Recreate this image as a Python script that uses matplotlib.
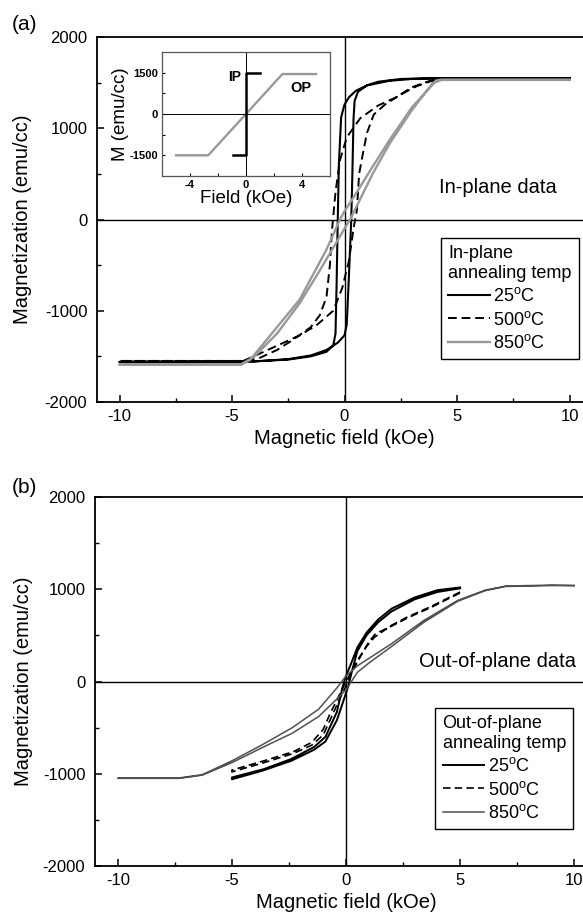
import numpy as np
import matplotlib
matplotlib.use("Agg")
import matplotlib.pyplot as plt

plt.rcParams["font.family"] = ["Liberation Sans", "DejaVu Sans"]
plt.rcParams["mathtext.fontset"] = "custom"
plt.rcParams["mathtext.rm"] = "Liberation Sans"
plt.rcParams["axes.unicode_minus"] = False

# ---------------- (a) in-plane loops ----------------
ip25_down_h = [10, 5, 3, 2, 1, 0.5, 0.2, 0, -0.15, -0.25, -0.3, -0.35, -0.4, -0.5, -0.8, -1.5, -2.5, -4, -10]
ip25_down_m = [1550, 1550, 1540, 1520, 1470, 1410, 1340, 1260, 1120, 600, 0, -700, -1250, -1380, -1450, -1500, -1535, -1555, -1560]
ip25_up_h = [-10, -4, -2.5, -1.5, -0.8, -0.3, 0, 0.1, 0.2, 0.3, 0.35, 0.4, 0.45, 0.6, 1, 1.5, 2.5, 4, 10]
ip25_up_m = [-1560, -1555, -1530, -1490, -1430, -1350, -1270, -1150, -600, 0, 500, 1100, 1300, 1400, 1470, 1510, 1540, 1550, 1550]

ip500_down_h = [10, 4.5, 3.8, 3.0, 2.3, 1.5, 0.7, 0.1, -0.2, -0.4, -0.55, -0.65, -0.8, -1.1, -1.5, -2.3, -3.0, -3.8, -4.5, -10]
ip500_down_m = [1540, 1540, 1520, 1450, 1340, 1250, 1110, 900, 650, 300, -100, -500, -850, -1050, -1180, -1320, -1430, -1520, -1550, -1550]
ip500_up_h = [-10, -4.5, -3.5, -2.0, -1.25, -0.5, -0.1, 0.2, 0.4, 0.55, 0.65, 0.8, 1.0, 1.3, 1.8, 2.5, 3.2, 4.0, 4.5, 10]
ip500_up_m = [-1550, -1550, -1440, -1270, -1160, -1000, -750, -450, -100, 100, 500, 700, 950, 1150, 1260, 1370, 1460, 1530, 1540, 1540]

ip850_down_h = [10, 4.3, 4.0, 3.0, 2.0, 1.2, 0.6, 0, -0.2, -0.8, -2.0, -3.0, -3.5, -4.2, -4.6, -10]
ip850_down_m = [1530, 1530, 1500, 1230, 870, 560, 320, 90, 0, -330, -880, -1180, -1330, -1540, -1590, -1590]
ip850_up_h = [-10, -4.6, -4.0, -3.0, -2.0, -1.2, -0.6, 0, 0.25, 0.67, 1.25, 2.0, 3.0, 3.9, 4.2, 10]
ip850_up_m = [-1590, -1590, -1500, -1250, -920, -600, -350, -100, 0, 210, 500, 830, 1200, 1490, 1530, 1530]

# inset: IP square loop and OP linear loop
inset_ip_h = [-0.9, 0, 0, 1.0]
inset_ip_m = [-1500, -1500, 1500, 1500]
inset_op_h = [-5, -2.7, 0, 2.6, 5]
inset_op_m = [-1500, -1500, 0, 1450, 1450]

# ---------------- (b) out-of-plane loops ----------------
op25_down_h = [5, 4, 3, 2, 1.4, 0.9, 0.5, 0.2, 0, -0.15, -0.4, -0.9, -1.4, -2.4, -3.6, -5]
op25_down_m = [1020, 990, 910, 790, 670, 530, 370, 180, 60, -60, -330, -600, -710, -840, -950, -1040]
op25_up_h = [-5, -3.7, -2.4, -1.4, -0.9, -0.4, -0.1, 0.1, 0.3, 0.5, 0.9, 1.4, 2.0, 3, 4, 5]
op25_up_m = [-1060, -970, -860, -740, -650, -420, -200, -50, 150, 330, 500, 640, 760, 890, 970, 1010]

op500_down_h = [5, 3.7, 2.7, 2.0, 1.25, 0.9, 0.5, 0.2, 0, -0.3, -0.7, -1.0, -1.5, -2.3, -3.6, -5]
op500_down_m = [970, 810, 700, 610, 480, 380, 230, 90, 0, -150, -350, -520, -660, -760, -860, -960]
op500_up_h = [-5, -3.6, -2.3, -1.5, -1.0, -0.7, -0.3, 0, 0.3, 0.7, 1.0, 1.3, 2.0, 2.7, 3.7, 5]
op500_up_m = [-980, -880, -780, -690, -580, -420, -200, -50, 120, 300, 430, 520, 600, 690, 800, 960]

op850_down_h = [10, 9, 7, 6.1, 4.9, 3.4, 2.0, 1.0, 0.5, 0, -0.4, -1.2, -2.35, -3.7, -5, -6.3, -7.3, -10]
op850_down_m = [1040, 1045, 1035, 990, 880, 660, 410, 250, 170, 60, -70, -300, -500, -690, -860, -1010, -1045, -1045]
op850_up_h = [-10, -7.3, -6.3, -5, -3.7, -2.35, -1.2, -0.4, 0, 0.5, 1.0, 2.0, 3.4, 4.9, 6.1, 7, 9, 10]
op850_up_m = [-1050, -1050, -1015, -880, -720, -560, -380, -190, -90, 100, 200, 380, 640, 870, 985, 1030, 1040, 1040]

temps = ["25", "500", "850"]
x_ticks = [-10, -5, 0, 5, 10]
y_ticks = [-2000, -1000, 0, 1000, 2000]


def loop(h1, m1, h2, m2):
    return np.concatenate([h1, h2]), np.concatenate([m1, m2])


def style_axes(ax):
    ax.set_xlim(-11, 11)
    ax.set_ylim(-2000, 2000)
    ax.set_xticks(x_ticks)
    ax.set_yticks(y_ticks)
    ax.set_xticks([-7.5, -2.5, 2.5, 7.5], minor=True)
    ax.set_yticks([-1500, -500, 500, 1500], minor=True)
    ax.tick_params(which="major", direction="in", length=5, width=1.1, labelsize=12, pad=5)
    ax.tick_params(which="minor", direction="in", length=3, width=1.0)
    ax.tick_params(axis="y", pad=7)
    for s in ax.spines.values():
        s.set_linewidth(1.3)
    ax.axhline(0, color="black", lw=1.0, zorder=1)
    ax.axvline(0, color="black", lw=1.0, zorder=1)
    ax.set_xlabel("Magnetic field (kOe)", fontsize=14.5)
    ax.set_ylabel("Magnetization (emu/cc)", fontsize=14.5)


fig = plt.figure(figsize=(5.83, 9.24), dpi=100)

# ---- panel (a)
ax1 = fig.add_axes([97 / 583, 1 - 402 / 924, 495 / 583, 365 / 924])
h, m = loop(ip25_down_h, ip25_down_m, ip25_up_h, ip25_up_m)
ax1.plot(h, m, color="black", lw=1.5, label=r"25$^{\rm o}$C")
h, m = loop(ip500_down_h, ip500_down_m, ip500_up_h, ip500_up_m)
ax1.plot(h, m, color="black", lw=1.4, ls=(0, (4.5, 2.5)), label=r"500$^{\rm o}$C")
h, m = loop(ip850_down_h, ip850_down_m, ip850_up_h, ip850_up_m)
ax1.plot(h, m, color="#999999", lw=1.7, label=r"850$^{\rm o}$C")
style_axes(ax1)
ax1.yaxis.set_label_coords(-0.131, 0.5)
ax1.text(4.2, 352, "In-plane data", fontsize=14.5, va="center", ha="left")
leg = ax1.legend(title="In-plane\nannealing temp", loc="upper left", bbox_to_anchor=(0.695, 0.449),
                 fontsize=13, title_fontsize=13, alignment="left", frameon=True, fancybox=False,
                 edgecolor="black", framealpha=1, handlelength=2.3, handletextpad=0.2,
                 labelspacing=0.3, borderpad=0.4, borderaxespad=0)
leg.get_frame().set_linewidth(1.0)

# inset
axi = fig.add_axes([162 / 583, 1 - 176 / 924, 168 / 583, 124 / 924])
axi.plot(inset_op_h, inset_op_m, color="#999999", lw=1.7)
axi.plot(inset_ip_h, inset_ip_m, color="black", lw=1.8)
axi.axhline(0, color="black", lw=0.7)
axi.axvline(0, color="black", lw=0.7)
axi.set_xlim(-6, 6)
axi.set_ylim(-2250, 2250)
axi.set_xticks([-4, 0, 4])
axi.set_yticks([-1500, 0, 1500])
axi.set_xticks([-2, 2], minor=True)
axi.set_yticks([-750, 750], minor=True)
axi.tick_params(which="both", direction="in", length=2.5, width=0.8, labelsize=8, pad=3)
for lab in axi.get_xticklabels() + axi.get_yticklabels():
    lab.set_fontweight("bold")
for s in axi.spines.values():
    s.set_linewidth(0.9)
    s.set_color("#555555")
axi.set_xlabel("Field (kOe)", fontsize=13.5, labelpad=0)
axi.set_ylabel("M (emu/cc)", fontsize=13.5, labelpad=0)
axi.text(-0.35, 1350, "IP", fontsize=10, fontweight="bold", ha="right", va="center")
axi.text(3.9, 950, "OP", fontsize=10.5, fontweight="bold", ha="center", va="center")

fig.text(12 / 583, 1 - 25 / 924, "(a)", fontsize=15, va="center", ha="left")

# ---- panel (b)
ax2 = fig.add_axes([95 / 583, 1 - 866 / 924, 502 / 583, 369 / 924])
h, m = loop(op25_down_h, op25_down_m, op25_up_h, op25_up_m)
ax2.plot(h, m, color="black", lw=1.4, label=r"25$^{\rm o}$C")
h, m = loop(op500_down_h, op500_down_m, op500_up_h, op500_up_m)
ax2.plot(h, m, color="black", lw=1.2, ls=(0, (4.5, 2.5)), label=r"500$^{\rm o}$C")
h, m = loop(op850_down_h, op850_down_m, op850_up_h, op850_up_m)
ax2.plot(h, m, color="#505050", lw=1.1, label=r"850$^{\rm o}$C")
style_axes(ax2)
ax2.yaxis.set_label_coords(-0.124, 0.5)
ax2.text(3.2, 217, "Out-of-plane data", fontsize=14.5, va="center", ha="left")
leg2 = ax2.legend(title="Out-of-plane\nannealing temp", loc="upper left", bbox_to_anchor=(0.678, 0.428),
                  fontsize=13, title_fontsize=13, alignment="left", frameon=True, fancybox=False,
                  edgecolor="black", framealpha=1, handlelength=2.3, handletextpad=0.2,
                  labelspacing=0.3, borderpad=0.4, borderaxespad=0)
leg2.get_frame().set_linewidth(1.0)

fig.text(12 / 583, 1 - 487 / 924, "(b)", fontsize=15, va="center", ha="left")

fig.savefig("out.png", dpi=100)
